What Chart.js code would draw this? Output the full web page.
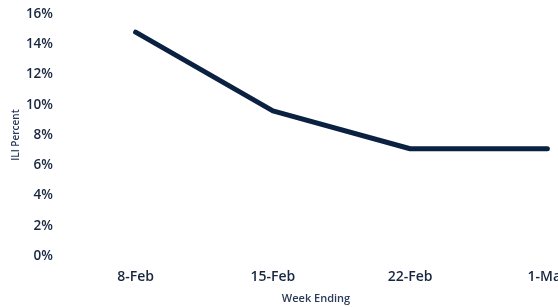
<!DOCTYPE html>
<html>
<head>
<meta charset="utf-8">
<script src="https://cdn.jsdelivr.net/npm/chart.js@4"></script>
<style>
  html, body { margin: 0; padding: 0; background: #fff; overflow: hidden; }
  #wrap { width: 616px; height: 307px; }
</style>
</head>
<body>
<div id="wrap"><canvas id="myChart"></canvas></div>
<script>
var weeks = ["8-Feb", "15-Feb", "22-Feb", "1-Mar"];
var iliPercent = [14.8, 9.6, 7.1, 7.1];
var yTicks = [0, 2, 4, 6, 8, 10, 12, 14, 16];

var textColor = "#182640";

// x title drawn by hand so it sits where the original had it
var xTitle = {
  id: "xTitle",
  afterDraw: function (chart) {
    var ctx = chart.ctx;
    ctx.save();
    ctx.font = "600 11px 'Open Sans'";
    ctx.fillStyle = "#2a3a58";
    ctx.textAlign = "center";
    ctx.textBaseline = "middle";
    ctx.fillText("Week Ending", 316, 299);
    ctx.restore();
  }
};

var ctx = document.getElementById("myChart").getContext("2d");
var chart = new Chart(ctx, {
  type: "line",
  data: {
    labels: weeks,
    datasets: [{
      data: iliPercent,
      borderColor: "#0b2142",
      borderWidth: 5,
      borderCapStyle: "round",
      borderJoinStyle: "round",
      pointRadius: 0,
      fill: false,
      tension: 0
    }]
  },
  options: {
    responsive: true,
    maintainAspectRatio: false,
    animation: false,
    layout: { padding: { left: 6, top: 14, right: 0, bottom: 10 } },
    plugins: { legend: { display: false }, tooltip: { enabled: false } },
    scales: {
      x: {
        offset: true,
        grid: { display: false, drawTicks: false },
        border: { display: false },
        ticks: {
          padding: 12,
          color: textColor,
          font: { family: "'Open Sans'", size: 14, weight: "600" },
          maxRotation: 0
        }
      },
      y: {
        min: yTicks[0],
        max: yTicks[yTicks.length - 1],
        grid: { display: false, drawTicks: false },
        border: { display: false },
        afterBuildTicks: function (axis) {
          axis.ticks = yTicks.map(function (v) { return { value: v }; });
        },
        afterFit: function (axis) {
          axis.width = 61;
          axis.paddingTop = 0;
        },
        ticks: {
          padding: 14,
          color: textColor,
          font: { family: "'Open Sans'", size: 13.5, weight: "600" },
          callback: function (v) { return v + "%"; }
        },
        title: {
          display: true,
          text: "ILI Percent",
          color: "#2a3a58",
          font: { family: "'Open Sans'", size: 10, weight: "600" },
          padding: { top: 4, bottom: 4 }
        }
      }
    }
  },
  plugins: [xTitle]
});
</script>
</body>
</html>
